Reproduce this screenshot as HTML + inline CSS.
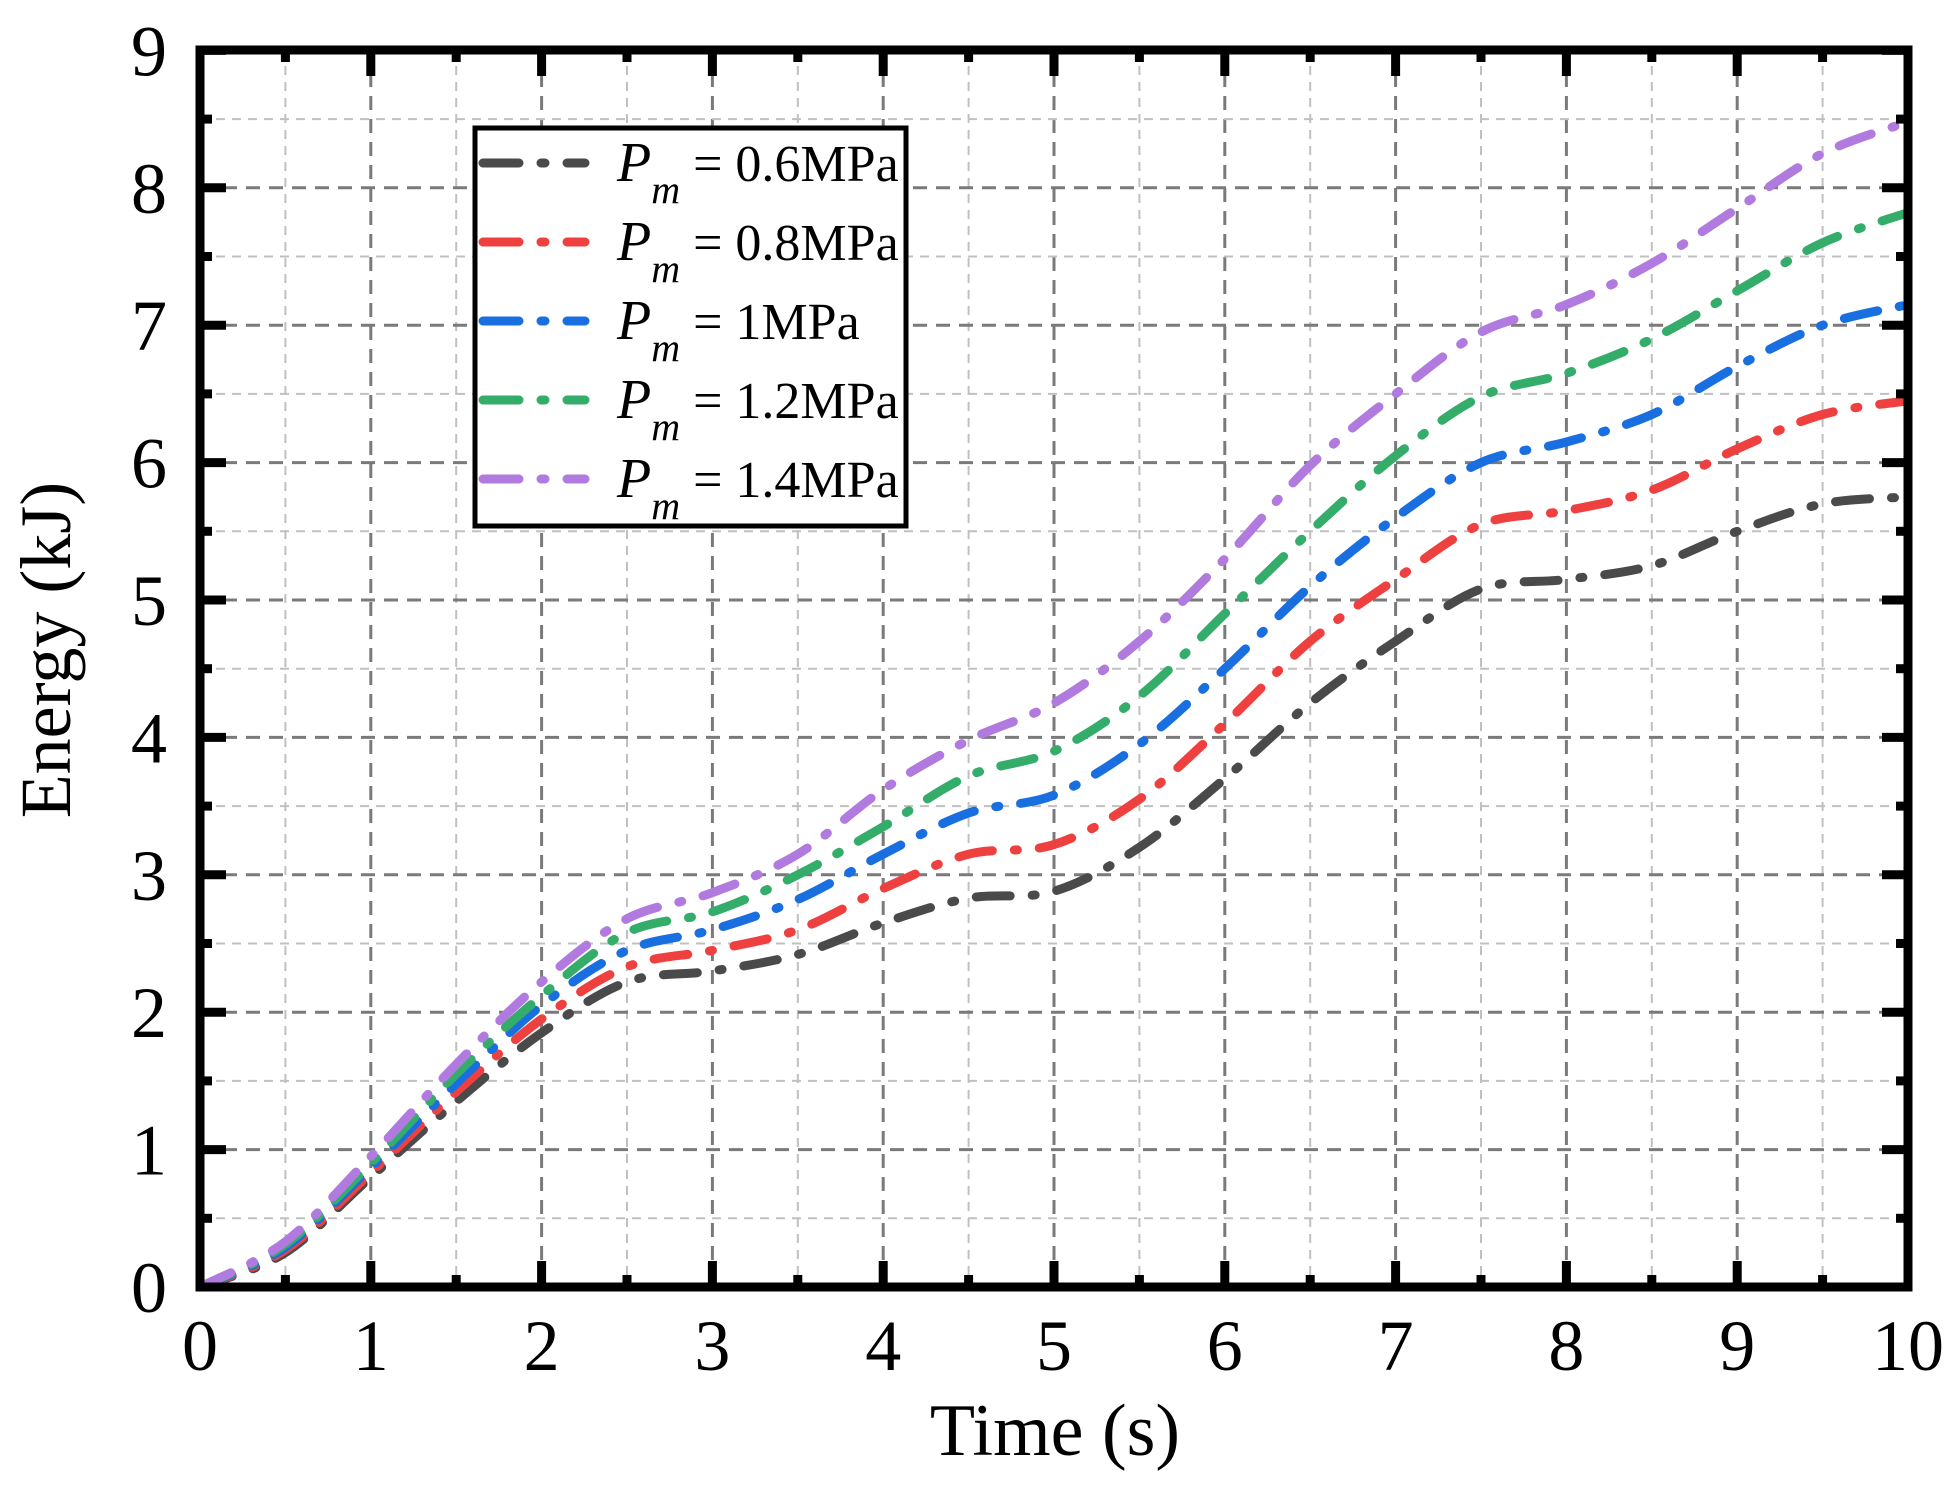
<!DOCTYPE html>
<html><head><meta charset="utf-8"><style>
html,body{margin:0;padding:0;background:#fff;}
svg text{font-family:"Liberation Serif",serif;fill:#000;}
</style></head><body>
<svg id="s" width="1954" height="1490" viewBox="0 0 1954 1490" xmlns="http://www.w3.org/2000/svg">
<g id="grid"></g>
<g id="curves" fill="none" stroke-width="9" stroke-linecap="round" stroke-dasharray="34 22 3 22"></g>
<g id="ticks"></g>
<rect x="200" y="50" width="1708" height="1237" fill="none" stroke="#000" stroke-width="9"/>
<g id="labels" font-size="72"></g>
<text x="1055" y="1455" font-size="74" text-anchor="middle">Time (s)</text>
<text transform="translate(70,650) rotate(-90)" font-size="72" text-anchor="middle">Energy (kJ)</text>
<g id="legend">
<rect x="475" y="128" width="431" height="398" fill="#fff" stroke="#000" stroke-width="5"/>
</g>
</svg>
<script>
var NS="http://www.w3.org/2000/svg";
var X0=200,XU=170.8,Y0=1287,YU=137.4;
function el(p,t,a,txt){var e=document.createElementNS(NS,t);for(var k in a)e.setAttribute(k,a[k]);if(txt!==undefined)e.textContent=txt;p.appendChild(e);return e;}
var g=document.getElementById('grid'),tk=document.getElementById('ticks'),lb=document.getElementById('labels');
for(var i=1;i<20;i++){var x=X0+i*XU/2,maj=i%2==0;
 el(g,'line',{x1:x,y1:50,x2:x,y2:1287,stroke:maj?'#7a7a7a':'#c0c0c0','stroke-width':maj?3:2,'stroke-dasharray':maj?'14 9':'9 7'});}
for(var i=1;i<18;i++){var y=Y0-i*YU/2,maj=i%2==0;
 el(g,'line',{x1:200,y1:y,x2:1908,y2:y,stroke:maj?'#7a7a7a':'#c0c0c0','stroke-width':maj?3:2,'stroke-dasharray':maj?'14 9':'9 7'});}
for(var i=0;i<=20;i++){var x=X0+i*XU/2,L=i%2==0?26:12;
 el(tk,'line',{x1:x,y1:1287,x2:x,y2:1287-L,stroke:'#000','stroke-width':9});
 el(tk,'line',{x1:x,y1:50,x2:x,y2:50+L,stroke:'#000','stroke-width':9});
 if(i%2==0)el(lb,'text',{x:x,y:1370,'text-anchor':'middle'},String(i/2));}
for(var i=0;i<=18;i++){var y=Y0-i*YU/2,L=i%2==0?26:12;
 el(tk,'line',{x1:200,y1:y,x2:200+L,y2:y,stroke:'#000','stroke-width':9});
 el(tk,'line',{x1:1908,y1:y,x2:1908-L,y2:y,stroke:'#000','stroke-width':9});
 if(i%2==0)el(lb,'text',{x:167,y:y+25,'text-anchor':'end'},String(i/2));}
var data=[
['#4a4a4a',[0,0.25,0.8,1.35,1.85,2.22,2.3,2.42,2.65,2.83,2.88,3.2,3.7,4.25,4.7,5.08,5.15,5.25,5.5,5.7,5.75],'0.6MPa'],
['#ef4040',[0,0.27,0.83,1.42,1.95,2.33,2.45,2.6,2.9,3.15,3.22,3.55,4.1,4.7,5.15,5.55,5.65,5.8,6.1,6.35,6.45],'0.8MPa'],
['#1a6fe0',[0,0.29,0.87,1.48,2.05,2.45,2.6,2.82,3.15,3.45,3.58,3.95,4.5,5.1,5.6,6.0,6.15,6.35,6.7,7.0,7.15],'1MPa'],
['#35ad6a',[0,0.31,0.9,1.55,2.12,2.58,2.73,3.0,3.35,3.72,3.9,4.3,4.9,5.5,6.05,6.48,6.65,6.9,7.25,7.6,7.82],'1.2MPa'],
['#b07ade',[0,0.33,0.95,1.62,2.22,2.68,2.87,3.15,3.62,3.98,4.25,4.7,5.3,5.98,6.5,6.95,7.15,7.45,7.85,8.25,8.48],'1.4MPa']];
var cv=document.getElementById('curves'),lg=document.getElementById('legend');
data.forEach(function(d,k){
 var p=d[1].map(function(v,i){return [X0+i*0.5*XU,Y0-v*YU];});
 var s='M'+p[0][0]+','+p[0][1];
 for(var i=0;i<p.length-1;i++){var a=p[Math.max(0,i-1)],b=p[i],c=p[i+1],e=p[Math.min(p.length-1,i+2)];
  s+=' C'+(b[0]+(c[0]-a[0])/6)+','+(b[1]+(c[1]-a[1])/6)+' '+(c[0]-(e[0]-b[0])/6)+','+(c[1]-(e[1]-b[1])/6)+' '+c[0]+','+c[1];}
 el(cv,'path',{d:s,stroke:d[0]});
 var y=163+k*79;
 el(lg,'line',{x1:483,y1:y,x2:585,y2:y,stroke:d[0],'stroke-width':9,'stroke-linecap':'round','stroke-dasharray':'36 22 4 22'});
 var t=el(lg,'text',{x:617,y:y+18,'font-size':52});
 el(t,'tspan',{'font-style':'italic','font-size':56},'P');
 el(t,'tspan',{'font-style':'italic','font-size':40,dy:22},'m');
 el(t,'tspan',{dy:-22},' = '+d[2]);
});
</script>
</body></html>
